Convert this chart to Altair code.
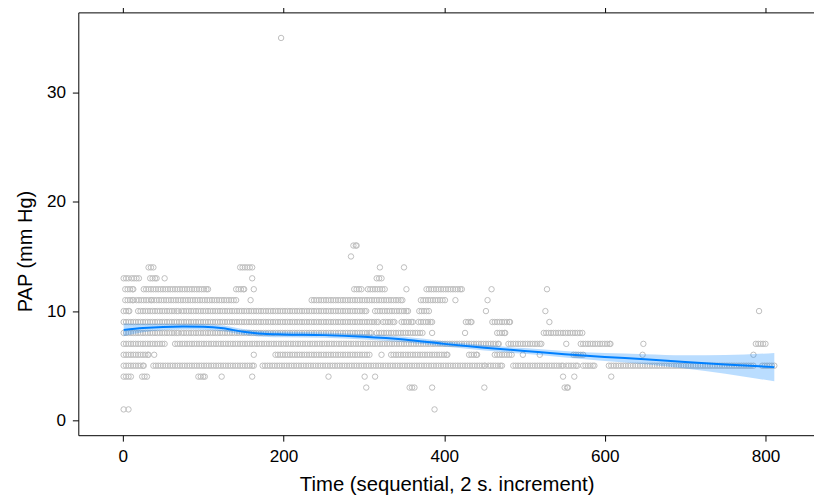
import altair as alt
import pandas as pd

# ---- observed points: runs of consecutive time indices per PAP level (start, end) ----
L1 = [(1, 1), (7, 7), (388, 388)]
L3 = [(303, 303), (357, 363), (385, 385), (450, 450), (550, 554)]
L4 = [(1, 10), (24, 30), (94, 102), (123, 123), (161, 161), (256, 256), (301, 301),
      (314, 314), (548, 548), (562, 562), (608, 608)]
L5 = [(1, 26), (38, 163), (174, 451), (455, 472), (486, 548), (552, 566), (573, 587),
      (605, 785), (796, 811)]
L6 = [(1, 32), (39, 39), (163, 163), (190, 307), (322, 322), (334, 404), (431, 441),
      (463, 484), (498, 498), (519, 519), (561, 573), (647, 647), (785, 785)]
L7 = [(1, 52), (65, 468), (480, 521), (552, 552), (570, 607), (648, 648), (788, 800)]
L8 = [(1, 69), (73, 309), (316, 373), (385, 385), (426, 426), (466, 476), (524, 572)]
L9 = [(1, 318), (324, 338), (347, 361), (368, 385), (427, 434), (460, 482), (531, 531)]
L10 = [(1, 8), (19, 69), (73, 303), (314, 355), (369, 381), (452, 452), (526, 526), (792, 792)]
L11 = [(3, 13), (17, 36), (39, 141), (159, 159), (235, 348), (371, 401), (414, 414), (454, 454)]
L12 = [(3, 13), (26, 106), (141, 151), (163, 163), (288, 297), (305, 326), (353, 353),
       (378, 422), (459, 459), (528, 528)]
L13 = [(1, 7), (11, 20), (34, 42), (52, 52), (161, 161), (316, 322)]
L14 = [(32, 38), (146, 161), (320, 320), (350, 350)]
L15 = [(284, 284)]
L16 = [(287, 291)]
L35 = [(197, 197)]

LEVEL_RUNS = [(1, L1), (3, L3), (4, L4), (5, L5), (6, L6), (7, L7), (8, L8), (9, L9),
              (10, L10), (11, L11), (12, L12), (13, L13), (14, L14), (15, L15),
              (16, L16), (35, L35)]

# ---- smoother (fit and confidence band) ----
SMOOTH_T = [1, 25, 50, 75, 100, 125, 150, 175, 200, 250, 300, 350, 400, 450, 500,
            550, 600, 650, 700, 750, 811]
SMOOTH_FIT = [8.28, 8.45, 8.55, 8.58, 8.56, 8.42, 8.10, 7.92, 7.86, 7.80, 7.65, 7.40,
              7.00, 6.65, 6.35, 6.05, 5.80, 5.60, 5.35, 5.12, 4.87]
SMOOTH_LO = [7.70, 8.07, 8.25, 8.31, 8.30, 8.16, 7.84, 7.66, 7.60, 7.55, 7.40, 7.15,
             6.75, 6.40, 6.09, 5.75, 5.44, 5.14, 4.75, 4.27, 3.57]
SMOOTH_HI = [8.86, 8.83, 8.85, 8.85, 8.82, 8.68, 8.36, 8.18, 8.12, 8.05, 7.90, 7.65,
             7.25, 6.90, 6.61, 6.35, 6.16, 6.06, 5.95, 5.97, 6.17]

X_TICKS = [0, 200, 400, 600, 800]
Y_TICKS = [0, 10, 20, 30]

rows = []
for level, runs in LEVEL_RUNS:
    for a, b in runs:
        ts = list(range(a, b + 1, 3))
        if ts[-1] != b:
            ts.append(b)
        for t in ts:
            rows.append({"t": t, "v": level})
pts = pd.DataFrame(rows)
smooth = pd.DataFrame({"t": SMOOTH_T, "fit": SMOOTH_FIT, "lo": SMOOTH_LO, "hi": SMOOTH_HI})

FONT = "Liberation Sans"
xscale = alt.Scale(domain=[-55.47, 860.4], nice=False, zero=False)
yscale = alt.Scale(domain=[-1.36, 37.34], nice=False, zero=False)

yaxis = alt.Axis(values=Y_TICKS, title="PAP (mm Hg)", grid=False, tickSize=6,
                 labelPadding=7, labelFontSize=17.3, titleFontSize=20.2,
                 titleX=-47.5, titleY=241, titleBaseline="alphabetic",
                 titleAlign="center")
xaxis_bottom = alt.Axis(values=X_TICKS, orient="bottom",
                        title="Time (sequential, 2 s. increment)", grid=False,
                        tickSize=6, labelPadding=7, labelFontSize=17.3,
                        titleFontSize=20.5, titleX=372, titleY=56,
                        titleBaseline="alphabetic", titleAlign="center")
xaxis_top = alt.Axis(values=X_TICKS, orient="top", labels=False, title="",
                     grid=False, tickSize=6)

points = alt.Chart(pts).mark_point(
    shape="circle", filled=False, size=30, strokeWidth=1, color="#bdbdbd", opacity=1
).encode(
    x=alt.X("t:Q", scale=xscale, axis=xaxis_bottom),
    y=alt.Y("v:Q", scale=yscale, axis=yaxis),
)

band = alt.Chart(smooth).mark_area(
    color="#0080ff", opacity=0.27, interpolate="monotone"
).encode(
    x=alt.X("t:Q", scale=xscale, axis=None),
    y=alt.Y("lo:Q", scale=yscale, axis=yaxis),
    y2="hi:Q",
)

line = alt.Chart(smooth).mark_line(
    color="#0080ff", strokeWidth=2, interpolate="monotone"
).encode(
    x=alt.X("t:Q", scale=xscale, axis=xaxis_top),
    y=alt.Y("fit:Q", scale=yscale, axis=yaxis),
)

chart = alt.layer(points, band, line).resolve_axis(x="independent").properties(
    width=743,
    height=427,
    autosize=alt.AutoSizeParams(type="none"),
    padding={"left": 71, "top": 2, "right": 0, "bottom": 62},
).configure_view(stroke=None).configure_axis(
    labelFont=FONT, titleFont=FONT, labelColor="black", titleColor="black",
    domainColor="black", tickColor="black", titleFontWeight="normal",
    domainWidth=1, tickWidth=1,
)

chart.save("out.html", embed_options={"renderer": "svg", "actions": False})
